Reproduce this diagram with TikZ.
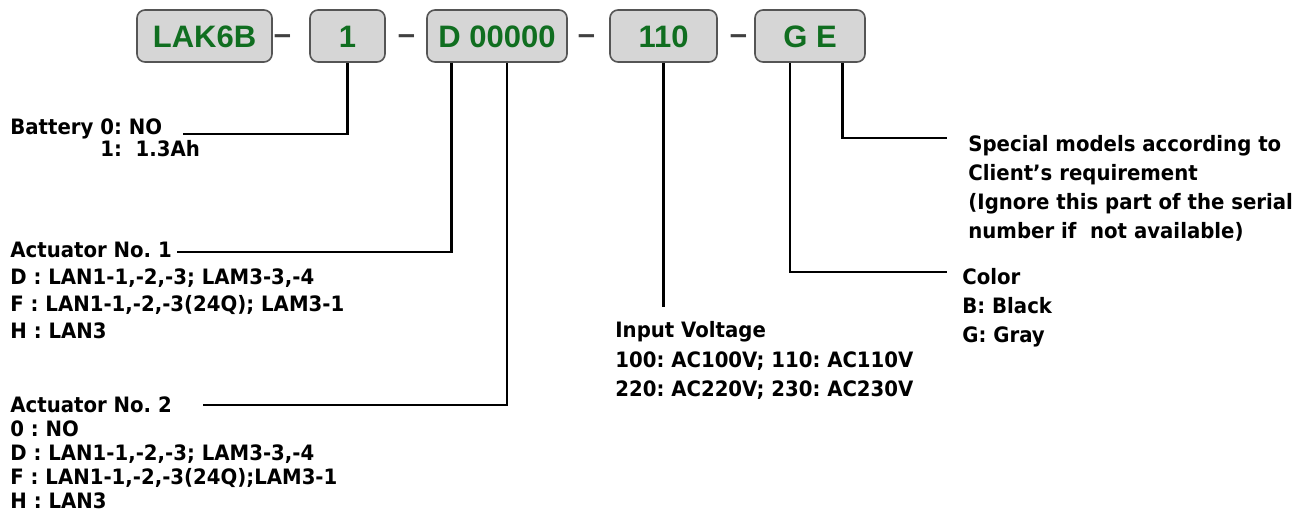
\documentclass[tikz,border=0pt]{standalone}
\usepackage{fontspec}
\usepackage{tikz}
\usetikzlibrary{calc}
\newfontfamily\labelfont[FakeStretch=0.93]{DejaVu Sans}
\newfontfamily\boxfont{Liberation Sans}
\definecolor{boxgray}{RGB}{214,214,214}
\definecolor{boxedge}{RGB}{85,85,85}
\definecolor{codegreen}{RGB}{16,110,32}
\frenchspacing
\tikzset{
  serialbox/.style={draw=boxedge, line width=0.8pt, fill=boxgray, rounded corners=4pt,
    minimum height=26pt, inner sep=0pt, text=codegreen, text height=11.2pt, text depth=0pt,
    font=\boxfont\bfseries\fontsize{15.5}{18}\selectfont},
  joiner/.style={anchor=base, inner sep=0pt, text=black!75,
    font=\boxfont\bfseries\fontsize{15.5}{18}\selectfont},
  % anchored at the baseline of the last line
  codetext/.style={anchor=base west, inner sep=0pt, align=left,
    font=\labelfont\bfseries\fontsize{10.6}{#1}\selectfont},
  lead/.style={line width=1.2pt}
}
\begin{document}
\begin{tikzpicture}[x=0.5pt, y=-0.5pt]
            \useasboundingbox (0,0) rectangle (1316,523);
            % serial number boxes
            \node[serialbox, minimum width=67.5pt] (lak) at (204.5,36) {LAK6B};
            \node[serialbox, minimum width=37.5pt] (one) at (347.5,36) {1};
            \node[serialbox, minimum width=70pt] (dact) at (497,36) {D 00000};
            \node[serialbox, minimum width=53.5pt] (volt) at (663.5,36) {110};
            \node[serialbox, minimum width=55pt] (ge) at (810,36) {G E};
            \node[joiner] (j1) at (282.5,45) {\textendash};
            \node[joiner] (j2) at (406.5,45) {\textendash};
            \node[joiner] (j3) at (586.5,45) {\textendash};
            \node[joiner] (j4) at (738.5,45) {\textendash};
            % explanations
            \node[codetext=9.5pt] (bat) at (10,157) {Battery 0: NO\\\hspace*{45pt}1:~ 1.3Ah};
            \node[codetext=13.4pt] (act1) at (10,338.4) {Actuator No. 1\\D : LAN1-1,-2,-3; LAM3-3,-4\\F : LAN1-1,-2,-3(24Q); LAM3-1\\H : LAN3};
            \node[codetext=11.9pt] (act2) at (10,508) {Actuator No. 2\\0 : NO\\D : LAN1-1,-2,-3; LAM3-3,-4\\F : LAN1-1,-2,-3(24Q);LAM3-1\\H : LAN3};
            \node[codetext=14.7pt] (vin) at (615,396.8) {Input Voltage\\100: AC100V; 110: AC110V\\220: AC220V; 230: AC230V};
            \node[codetext=14.4pt] (col) at (962,342.6) {Color\\B: Black\\G: Gray};
            \node[codetext=14.4pt] (spec) at (968,238.4) {Special models according to\\Client’s requirement\\(Ignore this part of the serial\\number if~ not available)};
            % leader lines
            \coordinate (batend) at (183,134);
            \coordinate (act1end) at (177,252);
            \coordinate (act2end) at (203,405);
            \coordinate (vinend) at (663.5,307);
            \coordinate (colend) at (947,272);
            \coordinate (specend) at (947,138);
            \draw[lead] (one.south) |- (batend);
            \draw[lead] ($(dact.south west)!0.18!(dact.south east)$) |- (act1end);
            \draw[lead] ($(dact.south west)!0.57!(dact.south east)$) |- (act2end);
            \draw[lead] (volt.south) -- (vinend);
            \draw[lead] ($(ge.south west)!0.32!(ge.south east)$) |- (colend);
            \draw[lead] ($(ge.south west)!0.79!(ge.south east)$) |- (specend);
        \end{tikzpicture}
\end{document}
